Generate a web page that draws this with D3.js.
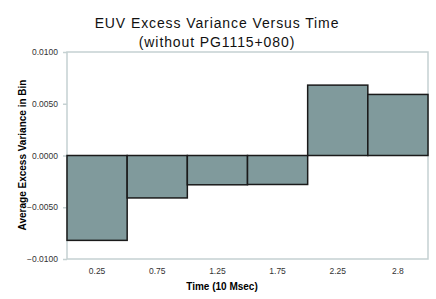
<!DOCTYPE html>
<html>
<head>
<meta charset="utf-8">
<script src="https://cdn.jsdelivr.net/npm/d3@7"></script>
<style>
  body { margin: 0; background: #fff; }
  svg { display: block; font-family: "Liberation Sans", Arial, sans-serif; }
</style>
</head>
<body>
<div id="chart"></div>
<script>
// ---------- Data ----------
const bins = ["0.25", "0.75", "1.25", "1.75", "2.25", "2.8"];
const variance = [-0.0082, -0.0041, -0.00283, -0.0028, 0.0068, 0.0059];
const yTicks = [-0.01, -0.005, 0, 0.005, 0.01];

// ---------- Layout ----------
const width = 436, height = 299;
const margin = {top: 52, right: 8, bottom: 40, left: 67};

const svg = d3.select("#chart").append("svg")
  .attr("width", width)
  .attr("height", height);

const x = d3.scaleBand()
  .domain(bins)
  .range([margin.left, width - margin.right])
  .padding(0);

const y = d3.scaleLinear()
  .domain([-0.01, 0.01])
  .range([height - margin.bottom, margin.top]);

const frameColor = "#c5d1d2";

// frame
svg.append("rect")
  .attr("x", margin.left)
  .attr("y", margin.top)
  .attr("width", width - margin.right - margin.left)
  .attr("height", height - margin.bottom - margin.top)
  .attr("fill", "none")
  .attr("stroke", frameColor)
  .attr("stroke-width", 1.5);

// y axis
const yAxis = svg.append("g")
  .attr("transform", `translate(${margin.left},0)`)
  .call(d3.axisLeft(y).tickValues(yTicks).tickSize(4).tickPadding(5)
    .tickFormat(d3.format(".4f")));
yAxis.select(".domain").remove();
yAxis.selectAll(".tick line").attr("stroke", frameColor).attr("stroke-width", 1.5);
yAxis.selectAll(".tick text")
  .attr("fill", "#333")
  .style("font-size", "8.5px")
  .style("font-family", "'Liberation Sans', Arial, sans-serif");

// bars
svg.append("g")
  .selectAll("rect")
  .data(variance)
  .join("rect")
  .attr("x", (d, i) => x(bins[i]))
  .attr("y", d => y(Math.max(0, d)))
  .attr("width", x.bandwidth())
  .attr("height", d => Math.abs(y(d) - y(0)))
  .attr("fill", "#809a9c")
  .attr("stroke", "#1a1a1a")
  .attr("stroke-width", 1.5);

// x labels
svg.append("g")
  .selectAll("text")
  .data(bins)
  .join("text")
  .attr("x", d => x(d) + x.bandwidth() / 2)
  .attr("y", 274)
  .attr("text-anchor", "middle")
  .attr("fill", "#333")
  .style("font-size", "8.5px")
  .text(d => d);

// titles
const title = svg.append("g")
  .attr("text-anchor", "middle")
  .attr("fill", "#111")
  .style("font-size", "14px")
  .style("letter-spacing", "0.9px");
title.append("text").attr("x", 217).attr("y", 28).text("EUV Excess Variance Versus Time");
title.append("text").attr("x", 217).attr("y", 47).text("(without PG1115+080)");

svg.append("text")
  .attr("x", 222)
  .attr("y", 290)
  .attr("text-anchor", "middle")
  .style("font-size", "10px")
  .style("font-weight", "bold")
  .text("Time (10 Msec)");

svg.append("text")
  .attr("transform", "translate(26,155) rotate(-90)")
  .attr("text-anchor", "middle")
  .style("font-size", "10px")
  .style("font-weight", "bold")
  .text("Average Excess Variance in Bin");
</script>
</body>
</html>
